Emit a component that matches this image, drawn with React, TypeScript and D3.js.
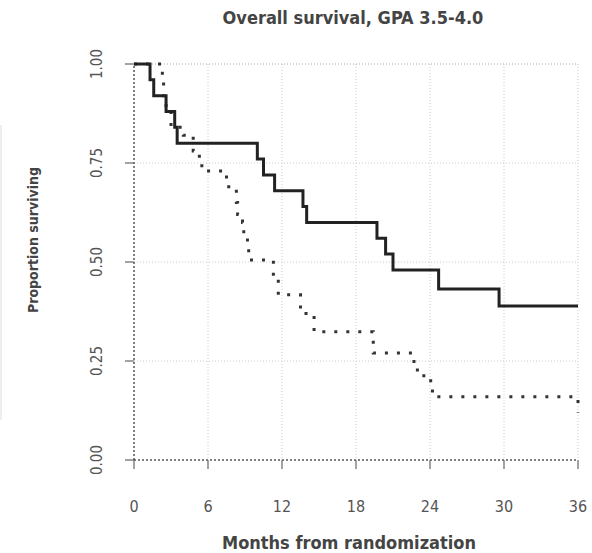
import React, { useEffect, useRef } from 'react';
import * as d3 from 'd3';

// Kaplan-Meier steps: [month, proportion surviving]
const solidTimes = [0, 1.3, 1.6, 2.6, 3.3, 3.5, 10.0, 10.5, 11.4, 13.7, 14.0, 19.7, 20.4, 21.0, 24.7, 29.6, 36];
const solidSurv = [1, 0.96, 0.92, 0.88, 0.84, 0.80, 0.76, 0.72, 0.68, 0.64, 0.60, 0.56, 0.52, 0.48, 0.432, 0.389, 0.389];

const dottedTimes = [0, 2.3, 2.4, 2.6, 3.0, 4.0, 4.8, 5.3, 5.5, 7.5, 8.3, 8.4, 8.8, 8.9, 9.2, 9.3, 11.3, 11.7, 13.5, 14.6, 19.4, 22.7, 23.5, 24.2, 36];
const dottedSurv = [1, 0.96, 0.92, 0.88, 0.84, 0.82, 0.78, 0.76, 0.73, 0.69, 0.65, 0.62, 0.60, 0.57, 0.54, 0.505, 0.46, 0.417, 0.37, 0.324, 0.27, 0.227, 0.20, 0.16, 0.12];

const xTicks = [0, 6, 12, 18, 24, 30, 36];
const yTicks = [0, 0.25, 0.5, 0.75, 1];

const title = 'Overall survival, GPA 3.5-4.0';
const xTitle = 'Months from randomization';
const yTitle = 'Proportion surviving';

const W = 592;
const H = 553;
const font = '"DejaVu Sans Condensed", "DejaVu Sans", sans-serif';

const App = () => {
  const ref = useRef(null);

  useEffect(() => {
    const svg = d3.select(ref.current);
    svg.selectAll('*').remove();

    const x = d3.scaleLinear().domain([0, 36]).range([134, 578]);
    const y = d3.scaleLinear().domain([0, 1]).range([460, 64]);

    // grid
    const grid = svg.append('g');
    grid.selectAll('line.gx')
      .data(xTicks.slice(1))
      .enter().append('line')
      .attr('x1', d => x(d)).attr('x2', d => x(d))
      .attr('y1', y(1)).attr('y2', y(0))
      .attr('stroke', '#ccc').attr('stroke-width', 1)
      .attr('stroke-dasharray', '1,2');
    grid.selectAll('line.gy')
      .data(yTicks.slice(1))
      .enter().append('line')
      .attr('x1', x(0)).attr('x2', x(36))
      .attr('y1', d => y(d)).attr('y2', d => y(d))
      .attr('stroke', d => d === 1 ? '#aaa' : '#ccc').attr('stroke-width', 1)
      .attr('stroke-dasharray', '1,2');

    // axes (dotted lines)
    svg.append('line')
      .attr('x1', x(0)).attr('x2', x(36)).attr('y1', y(0)).attr('y2', y(0))
      .attr('stroke', '#555').attr('stroke-width', 1.5).attr('stroke-dasharray', '2,2');
    svg.append('line')
      .attr('x1', x(0)).attr('x2', x(0)).attr('y1', y(0)).attr('y2', y(1))
      .attr('stroke', '#555').attr('stroke-width', 1.5).attr('stroke-dasharray', '2,2');

    // ticks
    svg.selectAll('line.tx')
      .data(xTicks)
      .enter().append('line')
      .attr('x1', d => x(d)).attr('x2', d => x(d))
      .attr('y1', y(0)).attr('y2', y(0) + 9)
      .attr('stroke', '#666').attr('stroke-width', 1.2);
    svg.selectAll('line.ty')
      .data(yTicks)
      .enter().append('line')
      .attr('x1', x(0) - 9).attr('x2', x(0))
      .attr('y1', d => y(d)).attr('y2', d => y(d))
      .attr('stroke', '#666').attr('stroke-width', 1.2);

    // tick labels
    svg.selectAll('text.tx')
      .data(xTicks)
      .enter().append('text')
      .attr('x', d => x(d)).attr('y', 512)
      .attr('text-anchor', 'middle')
      .attr('font-family', font).attr('font-size', 16).attr('fill', '#555')
      .text(d => d);
    svg.selectAll('text.ty')
      .data(yTicks)
      .enter().append('text')
      .attr('transform', d => `translate(102,${y(d)}) rotate(-90)`)
      .attr('text-anchor', 'middle')
      .attr('font-family', font).attr('font-size', 15).attr('fill', '#555')
      .text(d => d3.format('.2f')(d));

    // curves
    const line = d3.line()
      .x(d => x(d[0])).y(d => y(d[1]))
      .curve(d3.curveStepAfter);
    const solid = solidTimes.map((t, i) => [t, solidSurv[i]]);
    const dotted = dottedTimes.map((t, i) => [t, dottedSurv[i]]);

    svg.append('path')
      .attr('d', line(dotted))
      .attr('fill', 'none').attr('stroke', '#333').attr('stroke-width', 3)
      .attr('stroke-dasharray', '3,9');
    svg.append('path')
      .attr('d', line(solid))
      .attr('fill', 'none').attr('stroke', '#222').attr('stroke-width', 3);

    // titles
    svg.append('text')
      .attr('x', 353).attr('y', 24)
      .attr('text-anchor', 'middle')
      .attr('font-family', font).attr('font-size', 18).attr('font-weight', 'bold').attr('fill', '#444')
      .text(title);
    svg.append('text')
      .attr('x', 349).attr('y', 549)
      .attr('text-anchor', 'middle')
      .attr('font-family', font).attr('font-size', 18).attr('font-weight', 'bold').attr('fill', '#444')
      .text(xTitle);
    svg.append('text')
      .attr('transform', 'translate(38,240) rotate(-90)')
      .attr('text-anchor', 'middle')
      .attr('font-family', font).attr('font-size', 14).attr('font-weight', 'bold').attr('fill', '#444')
      .text(yTitle);

    // cropped edge of neighbouring panel
    svg.append('line')
      .attr('x1', 1).attr('x2', 1).attr('y1', 125).attr('y2', 420)
      .attr('stroke', '#ddd').attr('stroke-width', 1);
  }, []);

  return (
    <svg
      width={W}
      height={H}
      ref={ref}
      style={{ position: 'absolute', left: 0, top: 0, background: '#fff' }}
    />
  );
};

export default App;
